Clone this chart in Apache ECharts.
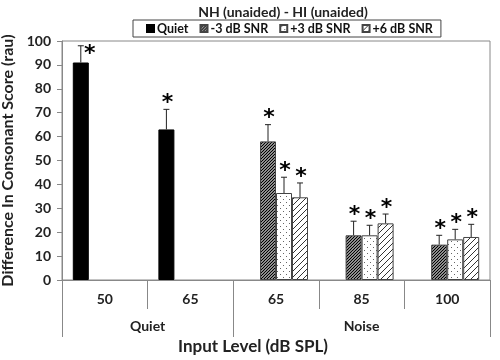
<!DOCTYPE html>
<html><head><meta charset="utf-8">
<script src="https://cdn.jsdelivr.net/npm/echarts@6/dist/echarts.min.js"></script>
<style>html,body{margin:0;padding:0;background:#fff}#c{width:500px;height:360px}</style>
</head><body><div id="c"></div>
<script>
const categories = ['50', '65', '65', '85', '100'];
const groupLabels = ['Quiet', 'Noise'];
const groupBounds = [0, 2, 5];
const groupCenters = [1, 3.5];
const seriesNames = ['Quiet', '-3 dB SNR', '+3 dB SNR', '+6 dB SNR'];
const quiet   = [91, 63, null, null, null];
const quietErr = [7, 8.4, null, null, null];
const snrM3   = [null, null, 58, 18.7, 14.8];
const snrM3Err = [null, null, 7, 5.9, 3.9];
const snrP3   = [null, null, 36.4, 18.7, 17.0];
const snrP3Err = [null, null, 6.6, 4.2, 4.2];
const snrP6   = [null, null, 34.6, 23.7, 18.0];
const snrP6Err = [null, null, 6, 3.9, 5.3];
const yTicks = [0, 10, 20, 30, 40, 50, 60, 70, 80, 90, 100];

const FONT = 'Lato';
function hatch(sp, lw, bg, fg) {
  const c = document.createElement('canvas'); c.width = sp; c.height = sp;
  const x = c.getContext('2d');
  x.fillStyle = bg; x.fillRect(0, 0, sp, sp);
  x.strokeStyle = fg; x.lineWidth = lw;
  x.beginPath();
  x.moveTo(-1, sp + 1); x.lineTo(sp + 1, -1);
  x.moveTo(-1, 1); x.lineTo(1, -1);
  x.moveTo(sp - 1, sp + 1); x.lineTo(sp + 1, sp - 1);
  x.stroke();
  return c;
}
function dots() {
  const c = document.createElement('canvas'); c.width = 6; c.height = 6;
  const x = c.getContext('2d');
  x.fillStyle = '#fff'; x.fillRect(0, 0, 6, 6);
  x.fillStyle = '#666';
  x.fillRect(1, 1, 1, 1); x.fillRect(4, 4, 1, 1);
  return c;
}
const fills = [
  '#000',
  { image: hatch(3, 1.3, '#fff', '#000'), repeat: 'repeat' },
  { image: dots(), repeat: 'repeat' },
  { image: hatch(6, 1, '#fff', '#333'), repeat: 'repeat' }
];
const vals = [quiet, snrM3, snrP3, snrP6];
const errs = [quietErr, snrM3Err, snrP3Err, snrP6Err];
const BW = 16;

const series = [];
vals.forEach((v, i) => {
  series.push({
    name: seriesNames[i], type: 'bar', data: v, barWidth: BW, barGap: '0%',
    itemStyle: { color: fills[i], borderColor: i === 0 ? '#000' : '#444', borderWidth: 1 },
    emphasis: { disabled: true }
  });
});
vals.forEach((v, i) => {
  const d = [];
  v.forEach((val, ci) => { if (val != null) d.push([ci, val, errs[i][ci]]); });
  series.push({
    name: 'err' + i, type: 'custom', data: d, z: 5, silent: true,
    renderItem(params, api) {
      const ci = api.value(0), val = api.value(1), e = api.value(2);
      const b = api.coord([ci, val]), t = api.coord([ci, val + e]);
      const x = b[0] + (i - 1.5) * BW;
      const side = t[1] < 52;
      return { type: 'group', children: [
        { type: 'line', shape: { x1: x, y1: b[1], x2: x, y2: t[1] }, style: { stroke: '#222', lineWidth: 1 } },
        { type: 'line', shape: { x1: x - 3, y1: t[1], x2: x + 3, y2: t[1] }, style: { stroke: '#222', lineWidth: 1 } },
        { type: 'text', x: side ? x + 9 : x + 1, y: side ? t[1] + 9 : t[1] - 6,
          style: { text: '*', fontSize: 22, fontWeight: 'bold', fontFamily: 'DejaVu Sans', fill: '#000', align: 'center', verticalAlign: 'middle' } }
      ]};
    }
  });
});

const chart = echarts.init(document.getElementById('c'), null, { renderer: 'canvas' });
chart.setOption({
  animation: false,
  backgroundColor: '#fff',
  title: { text: 'NH (unaided) - HI (unaided)', left: 278, top: 0, textAlign: 'center',
    textStyle: { fontFamily: FONT, fontSize: 14, fontWeight: 'bold', color: '#222' } },
  legend: {
    data: seriesNames, left: 133, top: 20, orient: 'horizontal',
    borderColor: '#444', borderWidth: 1, padding: [2, 8, 2, 13], itemGap: 11,
    itemWidth: 7, itemHeight: 7, icon: 'rect',
    textStyle: { fontFamily: FONT, fontSize: 12.5, fontWeight: 'bold', color: '#111', padding: [0, 0, 0, -2] }
  },
  grid: { left: 62, right: 10, top: 41, bottom: 80, show: true, borderColor: '#888', borderWidth: 1, containLabel: false, outerBoundsMode: 'none' },
  xAxis: [{
    type: 'category', data: categories,
    axisLine: { lineStyle: { color: '#888' } },
    axisTick: { show: true, interval: 0, length: 29, alignWithLabel: false, lineStyle: { color: '#888' } },
    axisLabel: { interval: 0, margin: 12, fontFamily: FONT, fontSize: 14, fontWeight: 'bold', color: '#222' },
    splitLine: { show: false }
  }, {
    type: 'value', min: 0, max: 5, position: 'bottom',
    axisLine: { show: false },
    axisTick: { show: true, customValues: groupBounds, length: 57, lineStyle: { color: '#888' } },
    axisLabel: { customValues: groupCenters, margin: 39, fontFamily: FONT, fontSize: 14, fontWeight: 'bold', color: '#222',
      formatter: v => groupLabels[groupCenters.indexOf(v)] },
    splitLine: { show: false },
    name: 'Input Level (dB SPL)', nameLocation: 'middle', nameGap: 55,
    nameTextStyle: { fontFamily: FONT, fontSize: 17, fontWeight: 'bold', color: '#222', padding: [0, 46, 0, 0] }
  }],
  yAxis: {
    type: 'value', min: 0, max: 100, interval: 10,
    axisLine: { show: true, lineStyle: { color: '#888' } },
    axisTick: { show: true, length: 5, lineStyle: { color: '#888' } },
    axisLabel: { margin: 11, fontFamily: FONT, fontSize: 14, fontWeight: 'bold', color: '#222',
      customValues: yTicks },
    splitLine: { show: false },
    name: 'Difference In Consonant Score (rau)', nameLocation: 'middle', nameGap: 40,
    nameTextStyle: { fontFamily: FONT, fontSize: 16, fontWeight: 'bold', color: '#222' }
  },
  series
});
</script></body></html>
